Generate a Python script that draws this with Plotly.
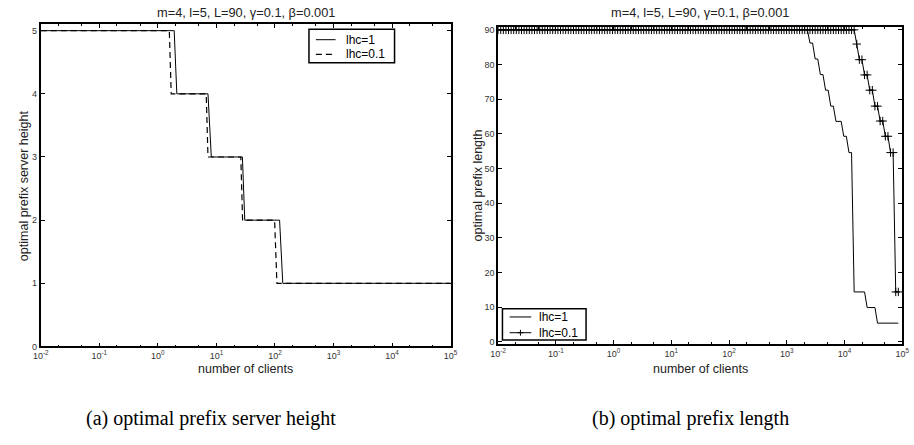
import numpy as np
import plotly.graph_objects as go

# ---- (a) optimal prefix server height: step vertices (clients, height) ----
height_x_lhc1 = [0.01, 1.9, 2.11, 7.18, 8.18, 27.8, 30.5, 120, 136, 1e5]
height_y_lhc1 = [5, 5, 4, 4, 3, 3, 2, 2, 1, 1]
height_x_lhc01 = [0.01, 1.57, 1.69, 6.7, 7.18, 26.1, 28.0, 98.6, 108, 1e5]
height_y_lhc01 = [5, 5, 4, 4, 3, 3, 2, 2, 1, 1]

# ---- (b) optimal prefix length on the sampled client grid ----
clients = np.logspace(-2, 4.93, 155)
# level table: log10(clients) where each level begins, and the level
length_start_lhc1 = [-2, 3.38, 3.48, 3.57, 3.66, 3.75, 3.84, 3.98, 4.06, 4.14, 4.38, 4.56]
length_level_lhc1 = [90, 86.2, 81.6, 77.1, 72.6, 68.0, 63.6, 59.3, 54.6, 14.4, 9.9, 5.4]
length_start_lhc01 = [-2, 4.20, 4.24, 4.33, 4.42, 4.51, 4.60, 4.69, 4.78, 4.87]
length_level_lhc01 = [90, 85.9, 81.4, 77.0, 72.6, 68.0, 63.7, 59.3, 54.6, 14.4]

series_names = ["lhc=1", "lhc=0.1"]

x_tickvals = [1e-2, 1e-1, 1e0, 1e1, 1e2, 1e3, 1e4, 1e5]
x_ticktext = ["10<sup>-2</sup>", "10<sup>-1</sup>", "10<sup>0</sup>", "10<sup>1</sup>",
              "10<sup>2</sup>", "10<sup>3</sup>", "10<sup>4</sup>", "10<sup>5</sup>"]
height_ticks = [0, 1, 2, 3, 4, 5]
length_ticks = [0, 10, 20, 30, 40, 50, 60, 70, 80, 90]

title_text = "m=4, l=5, L=90, \u03b3=0.1, \u03b2=0.001"


def levels_on_grid(starts, levels):
    idx = np.searchsorted(np.array(starts), np.log10(clients), side="right") - 1
    return np.array(levels)[idx]


len_lhc1 = levels_on_grid(length_start_lhc1, length_level_lhc1)
len_lhc01 = levels_on_grid(length_start_lhc01, length_level_lhc01)

W, H = 914, 445
SANS = "Liberation Sans, Arial, Helvetica, sans-serif"
SERIF = "Liberation Serif, Times New Roman, serif"
DASH = "6px,4px"


def px_x(p):
    return p / W


def px_y(p):
    return 1 - p / H


fig = go.Figure()

fig.add_trace(go.Scatter(x=height_x_lhc1, y=height_y_lhc1, mode="lines", name=series_names[0],
                         line=dict(color="black", width=1), xaxis="x", yaxis="y"))
fig.add_trace(go.Scatter(x=height_x_lhc01, y=height_y_lhc01, mode="lines", name=series_names[1],
                         line=dict(color="black", width=1.2, dash=DASH),
                         xaxis="x", yaxis="y"))

fig.add_trace(go.Scatter(x=clients, y=len_lhc1, mode="lines", name=series_names[0],
                         line=dict(color="black", width=1), xaxis="x2", yaxis="y2"))
fig.add_trace(go.Scatter(x=clients, y=len_lhc01, mode="lines+markers", name=series_names[1],
                         line=dict(color="black", width=1),
                         marker=dict(symbol="cross-thin", size=6,
                                     line=dict(color="black", width=1)),
                         xaxis="x2", yaxis="y2"))

# panel geometry in pixels
L_left, L_right, L_top, L_bot = 33.3, 450.0, 22.7, 350.0
R_left, R_right, R_top, R_bot = 498.3, 909.3, 25.0, 347.3

axis_common = dict(showline=True, linecolor="black", linewidth=1.8, mirror="allticks",
                   ticks="inside", ticklen=4, tickwidth=1, tickcolor="black",
                   showgrid=False, zeroline=False,
                   tickfont=dict(family=SANS, size=9, color="#333"))
x_common = dict(axis_common, type="log", range=[-2, 5], tickvals=x_tickvals,
                ticktext=x_ticktext,
                minor=dict(ticks="inside", ticklen=2, tickcolor="black", showgrid=False))

fig.update_layout(
    width=W, height=H,
    margin=dict(l=0, r=0, t=0, b=0),
    paper_bgcolor="white", plot_bgcolor="white",
    showlegend=False,
    xaxis=dict(x_common, domain=[px_x(L_left), px_x(L_right)], anchor="y"),
    yaxis=dict(axis_common, domain=[px_y(L_bot), px_y(L_top)], range=[0, 5.1],
               tickvals=height_ticks, anchor="x"),
    xaxis2=dict(x_common, domain=[px_x(R_left), px_x(R_right)], anchor="y2"),
    yaxis2=dict(axis_common, domain=[px_y(R_bot), px_y(R_top)], range=[-0.57, 90.94],
                tickvals=length_ticks, anchor="x2"),
)


def label(text, cx, cy, size, family=SANS, angle=0, color="#222", anchor="center"):
    return dict(text=text, x=px_x(cx), y=px_y(cy), xref="paper", yref="paper",
                xanchor=anchor, yanchor="middle", showarrow=False, textangle=angle,
                font=dict(family=family, size=size, color=color))


def pline(x0, y0, x1, y1, width=1, dash=None):
    return dict(type="line", xref="paper", yref="paper",
                x0=px_x(x0), y0=px_y(y0), x1=px_x(x1), y1=px_y(y1),
                line=dict(color="black", width=width, dash=dash))


def pbox(x0, y0, x1, y1):
    return dict(type="rect", xref="paper", yref="paper",
                x0=px_x(x0), y0=px_y(y0), x1=px_x(x1), y1=px_y(y1),
                fillcolor="white", line=dict(color="black", width=1.5), layer="above")


ann = [
    # panel titles
    label(title_text, (L_left + L_right) / 2, 11, 12.8),
    label(title_text, (R_left + R_right) / 2, 11, 12.8),
    # axis titles
    label("number of clients", (L_left + L_right) / 2, 373, 12.5),
    label("number of clients", (R_left + R_right) / 2, 373, 12.5),
    label("optimal prefix server height", 17, (L_top + L_bot) / 2, 12.5, angle=-90),
    label("optimal prefix length", 478, (R_top + R_bot) / 2, 12.5, angle=-90),
    # sub-figure captions
    label("(a) optimal prefix server height", 206, 423, 20, SERIF, color="black"),
    label("(b) optimal prefix length", 694, 423, 20, SERIF, color="black"),
]

shapes = []
# legend of panel (a)
shapes.append(pbox(306, 27.7, 393, 61.7))
shapes.append(pline(313, 38.3, 333, 38.3))
shapes.append(pline(313, 53.3, 333, 53.3, width=1.2, dash=DASH))
ann.append(label(series_names[0], 342, 38.3, 12, color="black", anchor="left"))
ann.append(label(series_names[1], 342, 53.3, 12, color="black", anchor="left"))

# legend of panel (b)
shapes.append(pbox(502.7, 311.7, 587.7, 343.3))
shapes.append(pline(510, 320, 532, 320))
shapes.append(pline(510, 336, 532, 336))
shapes.append(pline(518, 336, 524, 336, width=1))
shapes.append(pline(521, 333, 521, 339, width=1))
ann.append(label(series_names[0], 537.5, 320, 12, color="black", anchor="left"))
ann.append(label(series_names[1], 537.5, 336, 12, color="black", anchor="left"))

fig.update_layout(annotations=ann, shapes=shapes)

fig.write_html("out.html")
